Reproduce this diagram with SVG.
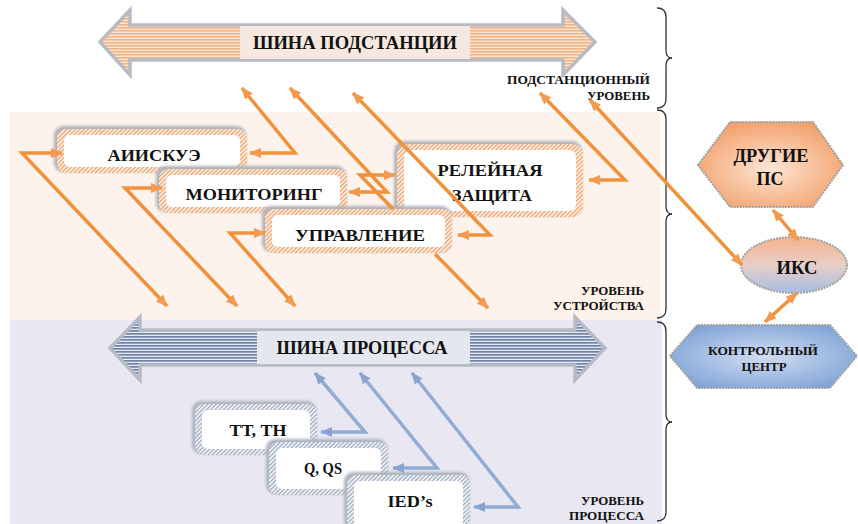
<svg xmlns="http://www.w3.org/2000/svg" width="858" height="524" viewBox="0 0 858 524">
<defs>
<style>
text{font-family:'Liberation Serif','Times New Roman','DejaVu Serif',serif;font-weight:bold;fill:#111}
.t17{font-size:17px}
.lvl{font-size:12px;text-anchor:end}
.mid{text-anchor:middle}
.co{fill:none;stroke:#f0913c;stroke-width:3.5;marker-start:url(#ao);marker-end:url(#ao)}
.cb{fill:none;stroke:#93acd3;stroke-width:3.5;marker-start:url(#ab);marker-end:url(#ab)}
.glow{fill:#aeb3bc;filter:url(#blur)}
.brace{fill:none;stroke:#333;stroke-width:1.3}
.shape{stroke:#a0a0a0;stroke-width:2;stroke-dasharray:2 1}
</style>
<filter id="blur" x="-10%" y="-20%" width="120%" height="140%"><feGaussianBlur stdDeviation="1.5"/></filter>
<pattern id="hO" width="3" height="3" patternUnits="userSpaceOnUse" patternTransform="rotate(45)"><rect width="3" height="3" fill="#fff"/><rect width="1.5" height="3" fill="#eea067"/></pattern>
<pattern id="hB" width="3" height="3" patternUnits="userSpaceOnUse" patternTransform="rotate(45)"><rect width="3" height="3" fill="#fff"/><rect width="1.5" height="3" fill="#9eabc2"/></pattern>
<pattern id="sO" width="4" height="3" patternUnits="userSpaceOnUse"><rect width="4" height="3" fill="#fbe6d6"/><rect width="4" height="1.6" fill="#f2b384"/></pattern>
<pattern id="sB" width="4" height="3" patternUnits="userSpaceOnUse"><rect width="4" height="3" fill="#e6e9f1"/><rect width="4" height="1.7" fill="#6e84a6"/></pattern>
<radialGradient id="gO" cx="50%" cy="55%" r="60%"><stop offset="0" stop-color="#fde6d4"/><stop offset="1" stop-color="#f29e68"/></radialGradient>
<radialGradient id="gB" cx="50%" cy="50%" r="60%"><stop offset="0" stop-color="#d2def2"/><stop offset="1" stop-color="#7ea2d6"/></radialGradient>
<linearGradient id="gI" x1="0" y1="0" x2="0" y2="1"><stop offset="0" stop-color="#f4b28a"/><stop offset="0.5" stop-color="#e8cfc8"/><stop offset="1" stop-color="#a5bde2"/></linearGradient>
<marker id="ao" viewBox="0 0 12 10" refX="11" refY="5" markerWidth="12" markerHeight="10" markerUnits="userSpaceOnUse" orient="auto-start-reverse"><path d="M0,0 L12,5 L0,10 z" fill="#f39a4e"/></marker>
<marker id="ab" viewBox="0 0 12 10" refX="11" refY="5" markerWidth="12" markerHeight="10" markerUnits="userSpaceOnUse" orient="auto-start-reverse"><path d="M0,0 L12,5 L0,10 z" fill="#8aa4cf"/></marker>
</defs>

<rect width="858" height="524" fill="#fff"/>
<rect x="10" y="112" width="650" height="208" fill="#fdf3ec"/>
<rect x="10" y="320" width="652" height="204" fill="#e9e7f1"/>

<g id="braces">
<path class="brace" d="M657,8 Q666,8 666,17 L666,50 Q666,58 672,58 Q666,58 666,66 L666,99 Q666,108 657,108"/>
<path class="brace" d="M657,110 Q666,110 666,119 L666,206 Q666,214 672,214 Q666,214 666,222 L666,309 Q666,318 657,318"/>
<path class="brace" d="M657,322 Q666,322 666,331 L666,414 Q666,422 672,422 Q666,422 666,430 L666,512 Q666,521 657,521"/>
</g>

<g id="text-root" font-family="Liberation Serif, Times New Roman, serif" font-weight="bold">
<g id="levels">
<text class="lvl" x="650" y="84" textLength="143" lengthAdjust="spacingAndGlyphs">ПОДСТАНЦИОННЫЙ</text>
<text class="lvl" x="650" y="100" textLength="63" lengthAdjust="spacingAndGlyphs">УРОВЕНЬ</text>
<text class="lvl" x="644" y="295" textLength="63" lengthAdjust="spacingAndGlyphs">УРОВЕНЬ</text>
<text class="lvl" x="644" y="310" textLength="91" lengthAdjust="spacingAndGlyphs">УСТРОЙСТВА</text>
<text class="lvl" x="644" y="505" textLength="63" lengthAdjust="spacingAndGlyphs">УРОВЕНЬ</text>
<text class="lvl" x="644" y="520" textLength="75" lengthAdjust="spacingAndGlyphs">ПРОЦЕССА</text>
</g>

<g id="bus-substation">
<polygon points="100,42 130,10 130,25 563,25 563,10 595,42 563,75 563,60 130,60 130,75" fill="url(#sO)" stroke="#b7bbc4" stroke-width="3.5"/>
<rect x="240" y="26" width="230" height="33" fill="#f4e8e0"/>
<text class="mid" x="355" y="49" font-size="19" textLength="204" lengthAdjust="spacingAndGlyphs">ШИНА ПОДСТАНЦИИ</text>
</g>
<g id="bus-process">
<polygon points="110,348 140,317 140,330 575,330 575,317 605,348 575,380 575,365 140,365 140,380" fill="url(#sB)" stroke="#b7bbc4" stroke-width="3.5"/>
<rect x="257" y="331" width="213" height="33" fill="#e5e7ee"/>
<text class="mid" x="362" y="354" font-size="19" textLength="171" lengthAdjust="spacingAndGlyphs">ШИНА ПРОЦЕССА</text>
</g>

<g id="n-aiiskue">
<rect class="glow" x="54" y="126" width="192" height="46" rx="9"/>
<rect x="57" y="129" width="190" height="44" rx="9" fill="url(#hO)"/>
<rect x="64" y="135" width="176" height="32" rx="6" fill="#fff"/>
<text class="t17 mid" x="154" y="161" textLength="93" lengthAdjust="spacingAndGlyphs">АИИСКУЭ</text>
</g>
<g id="n-monitoring">
<rect class="glow" x="156" y="166" width="190" height="46" rx="9"/>
<rect x="159" y="169" width="188" height="44" rx="9" fill="url(#hO)"/>
<rect x="166" y="175" width="174" height="32" rx="6" fill="#fff"/>
<text class="t17 mid" x="254" y="200" textLength="137" lengthAdjust="spacingAndGlyphs">МОНИТОРИНГ</text>
</g>
<g id="n-rz">
<rect class="glow" x="394" y="141" width="188" height="75" rx="10"/>
<rect x="397" y="144" width="186" height="73" rx="10" fill="url(#hO)"/>
<rect x="404" y="150" width="172" height="61" rx="7" fill="#fff"/>
<text class="t17 mid" x="490" y="176" textLength="105" lengthAdjust="spacingAndGlyphs">РЕЛЕЙНАЯ</text>
<text class="t17 mid" x="492" y="201" textLength="80" lengthAdjust="spacingAndGlyphs">ЗАЩИТА</text>
</g>
<g id="n-upravlenie">
<rect class="glow" x="262" y="206" width="189" height="46" rx="9"/>
<rect x="265" y="209" width="187" height="44" rx="9" fill="url(#hO)"/>
<rect x="272" y="215" width="173" height="32" rx="6" fill="#fff"/>
<text class="t17 mid" x="360" y="241" textLength="130" lengthAdjust="spacingAndGlyphs">УПРАВЛЕНИЕ</text>
</g>

<g id="n-tt">
<rect class="glow" x="192" y="401" width="124" height="53" rx="9"/>
<rect x="195" y="404" width="122" height="51" rx="9" fill="url(#hB)"/>
<rect x="202" y="410" width="108" height="39" rx="6" fill="#fff"/>
<text class="t17 mid" x="258" y="436" textLength="57" lengthAdjust="spacingAndGlyphs">ТТ, ТН</text>
</g>
<g id="n-q">
<rect class="glow" x="266" y="439" width="121" height="55" rx="9"/>
<rect x="269" y="442" width="119" height="53" rx="9" fill="url(#hB)"/>
<rect x="276" y="448" width="105" height="41" rx="6" fill="#fff"/>
<text class="t17 mid" x="323" y="474" textLength="38" lengthAdjust="spacingAndGlyphs">Q, QS</text>
</g>
<g id="n-ied">
<rect class="glow" x="344" y="472" width="125" height="58" rx="9"/>
<rect x="347" y="475" width="123" height="56" rx="9" fill="url(#hB)"/>
<rect x="354" y="481" width="109" height="50" rx="6" fill="#fff"/>
<text class="t17 mid" x="410" y="507" textLength="45" lengthAdjust="spacingAndGlyphs">IED’s</text>
</g>

<g id="n-drugie">
<polygon class="shape" points="698,165 730,122 813,122 843,165 813,207 730,207" fill="url(#gO)"/>
<text class="mid" x="771" y="162" font-size="18" textLength="75" lengthAdjust="spacingAndGlyphs">ДРУГИЕ</text>
<text class="mid" x="770" y="185" font-size="18">ПС</text>
</g>
<g id="n-iks">
<ellipse class="shape" cx="794" cy="265" rx="53" ry="28" fill="url(#gI)"/>
<text class="mid" x="797" y="274" font-size="18" textLength="41" lengthAdjust="spacingAndGlyphs">ИКС</text>
</g>
<g id="n-kc">
<polygon class="shape" points="670,356 697,325 830,325 857,356 830,388 697,388" fill="url(#gB)"/>
<text class="mid" x="763" y="355" font-size="13.5" textLength="110" lengthAdjust="spacingAndGlyphs">КОНТРОЛЬНЫЙ</text>
<text class="mid" x="764" y="371" font-size="13.5" textLength="45" lengthAdjust="spacingAndGlyphs">ЦЕНТР</text>
</g>
</g>

<g id="connectors">
<path class="co" d="M242,88 L295,153 L250,153"/>
<path class="co" d="M290,88 L387,192 L349,192"/>
<path class="co" d="M353,93 L490,235 L458,235"/>
<path class="co" d="M540,93 L625,180 L589,180"/>
<path class="co" d="M590,100 L742,265"/>
<path class="co" d="M62,153 L22,153 L167,306"/>
<path class="co" d="M162,188 L125,188 L237,306"/>
<path class="co" d="M265,233 L230,233 L295,306"/>
<path class="co" d="M395,175 L360,175 L393,209 M435,254 L488,308"/>
<path class="co" d="M773,210 L798,240"/>
<path class="co" d="M797,293 L765,322"/>
<path class="cb" d="M315,373 L365,432 L321,432"/>
<path class="cb" d="M360,373 L437,468 L393,468"/>
<path class="cb" d="M412,373 L518,507 L474,507"/>
</g>
</svg>
